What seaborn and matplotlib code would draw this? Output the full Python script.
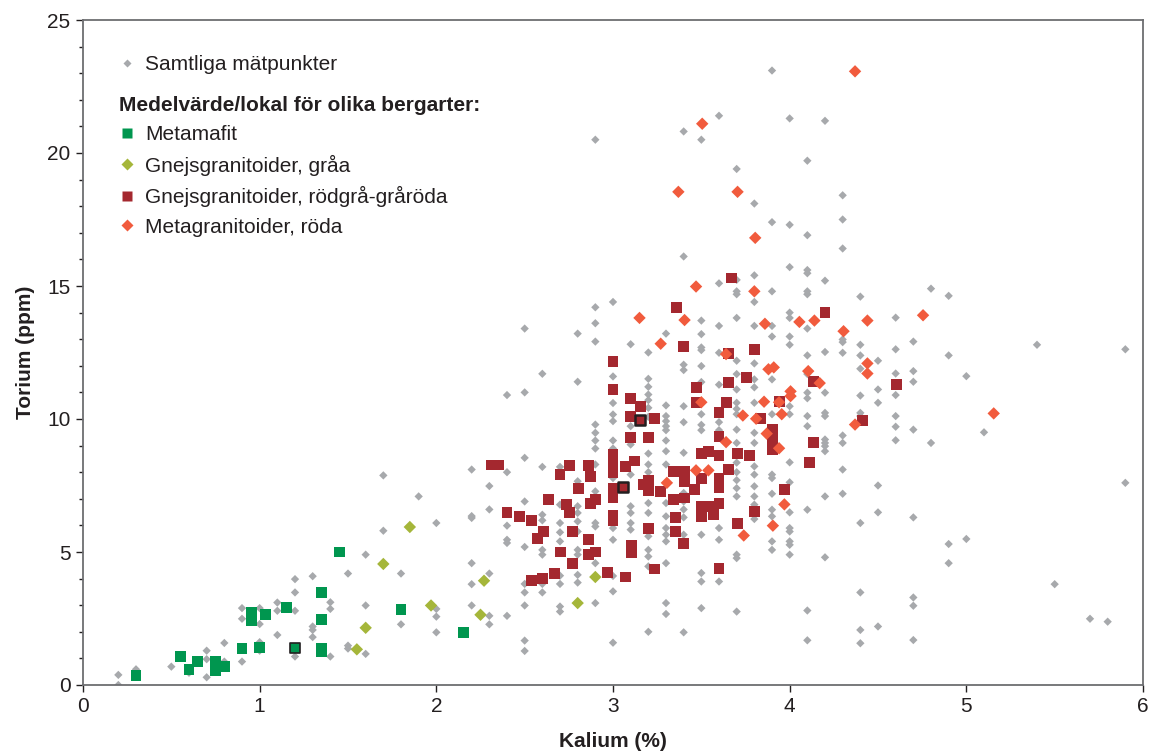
import numpy as np
import pandas as pd
import matplotlib
matplotlib.use("Agg")
import matplotlib.pyplot as plt
from matplotlib.lines import Line2D
import seaborn as sns

# all measurement points: K (%) column -> Th (ppm) values in that column
gray_k_cols = [0.2, 0.3, 0.5, 0.6, 0.7, 0.8, 0.9, 1.0, 1.1, 1.2, 1.3, 1.4, 1.5, 1.6, 1.7,
               1.8, 1.9, 2.0, 2.2, 2.3, 2.4, 2.5, 2.6, 2.7, 2.8, 2.9, 3.0, 3.1, 3.2, 3.3,
               3.4, 3.5, 3.6, 3.7, 3.8, 3.9, 4.0, 4.1, 4.2, 4.3, 4.4, 4.5, 4.6, 4.7, 4.8,
               4.9, 5.0, 5.1, 5.4, 5.5, 5.7, 5.8, 5.9]
gray_th_cols = [
    [0.38, 0.0],
    [0.59],
    [0.69],
    [0.46],
    [1.29, 0.97, 0.29],
    [1.58, 0.88],
    [2.89, 2.49, 0.88],
    [2.89, 2.29, 1.61, 1.29],
    [3.10, 2.79, 1.88],
    [3.98, 3.48, 2.79, 1.07],
    [4.09, 2.20, 2.07, 1.80],
    [3.11, 2.86, 1.07],
    [4.19, 1.48, 1.37],
    [4.90, 2.99, 1.17],
    [7.88, 5.80],
    [4.19, 2.28],
    [7.09],
    [6.09, 2.86, 2.57, 1.98],
    [8.10, 6.35, 6.28, 4.58, 3.79, 2.99],
    [7.48, 6.60, 4.19, 2.60, 2.28],
    [10.90, 8.00, 5.99, 5.46, 5.34, 2.60],
    [13.40, 11.00, 8.54, 6.90, 5.19, 3.80, 3.48, 2.99, 1.67, 1.28],
    [11.70, 8.20, 6.40, 6.19, 5.08, 4.90, 3.80, 3.48],
    [8.20, 6.78, 6.09, 5.74, 5.40, 4.11, 3.80, 2.95, 2.76],
    [13.21, 11.40, 7.66, 6.72, 6.47, 6.15, 5.77, 5.08, 4.90, 4.14, 3.85],
    [20.50, 14.20, 13.60, 12.91, 9.79, 9.48, 9.19, 8.89, 8.29, 7.28, 6.09, 5.96, 4.58, 3.08],
    [14.40, 12.20, 11.60, 10.60, 10.17, 9.92, 9.19, 8.89, 7.78, 5.90, 5.46, 4.10, 3.52, 1.59],
    [12.81, 9.73, 9.04, 7.91, 6.72, 6.47, 6.09, 5.84],
    [12.50, 11.51, 11.21, 10.92, 10.71, 10.42, 10.08, 8.70, 8.29, 8.00, 6.84, 6.47, 5.59,
     5.08, 4.83, 4.46, 2.00],
    [13.21, 10.51, 10.11, 9.92, 9.73, 9.58, 9.19, 8.79, 8.29, 6.84, 6.34, 5.90, 5.65, 5.40,
     4.58, 3.08, 2.67],
    [20.81, 16.11, 12.04, 11.84, 10.48, 9.88, 8.73, 7.22, 6.90, 6.60, 6.30, 5.65, 1.98],
    [20.50, 13.70, 13.19, 12.69, 12.59, 11.99, 11.39, 10.18, 9.78, 9.58, 5.65, 4.21, 3.89, 2.89],
    [21.40, 15.10, 13.50, 12.49, 11.29, 9.88, 9.58, 5.90, 5.46, 3.89],
    [19.40, 15.23, 14.80, 14.69, 13.80, 12.19, 11.69, 11.11, 10.61, 10.38, 10.18, 9.60, 9.10,
     8.36, 8.00, 7.70, 7.40, 7.09, 4.90, 4.77, 2.76],
    [18.10, 15.40, 14.40, 13.50, 12.09, 11.49, 11.19, 10.61, 9.48, 9.10, 8.22, 7.91, 7.47,
     7.09, 6.78, 6.24],
    [23.10, 17.40, 14.80, 13.50, 13.10, 11.49, 10.18, 7.91, 7.78, 7.19, 6.59, 6.34, 5.40, 5.08],
    [21.30, 17.30, 15.71, 14.00, 13.80, 13.10, 12.79, 10.48, 10.18, 8.37, 7.62, 6.49, 5.90,
     5.77, 5.40, 5.27, 4.90],
    [19.71, 16.91, 15.60, 15.48, 14.80, 14.69, 13.40, 12.39, 11.69, 10.99, 10.78, 10.11, 9.73,
     6.59, 2.80, 1.68],
    [21.21, 15.20, 12.52, 10.99, 10.23, 10.11, 9.23, 9.10, 8.98, 8.79, 7.09, 4.80],
    [18.41, 17.50, 16.41, 12.99, 12.89, 12.49, 9.38, 9.10, 8.10, 7.19],
    [14.60, 12.79, 12.39, 11.89, 10.88, 10.23, 10.11, 6.09, 3.48, 2.07, 1.57],
    [12.19, 11.11, 10.61, 7.50, 6.49, 2.20],
    [13.81, 12.62, 11.71, 10.90, 10.11, 9.71, 9.20],
    [12.91, 11.80, 11.40, 9.60, 6.30, 3.29, 2.98, 1.69],
    [14.90, 9.10],
    [14.63, 12.39, 5.30, 4.58],
    [11.61, 5.49],
    [9.50],
    [12.79],
    [3.79],
    [2.49],
    [2.38],
    [12.62, 7.60],
]

# site means per rock type
metamafit_k = [0.30, 0.55, 0.60, 0.65, 0.75, 0.75, 0.80, 0.90, 0.955, 0.955, 1.035, 1.00,
               1.15, 1.35, 1.35, 1.35, 1.35, 1.45, 1.80, 2.155]
metamafit_th = [0.34, 1.08, 0.59, 0.89, 0.89, 0.55, 0.68, 1.38, 2.72, 2.42, 2.64, 1.41,
                2.93, 3.49, 2.45, 1.39, 1.25, 5.00, 2.85, 1.98]
metamafit_hl_k = [1.20]
metamafit_hl_th = [1.38]

gra_k = [1.55, 1.60, 1.70, 1.85, 1.97, 2.25, 2.27, 2.80, 2.90]
gra_th = [1.34, 2.15, 4.55, 5.94, 2.99, 2.64, 3.92, 3.08, 4.06]

rodgra_k = [2.31, 2.35, 2.40, 2.47, 2.54, 2.57, 2.605, 2.54, 2.60, 2.635, 2.67, 2.70, 2.705,
            2.735, 2.755, 2.755, 2.77, 2.77, 2.805, 2.86, 2.87, 2.87, 2.90, 2.86, 2.86, 2.90,
            2.97, 3.00, 3.00, 3.00, 3.00, 3.00, 3.00, 3.00, 3.00, 3.00, 3.07, 3.12, 3.07,
            3.10, 3.10, 3.10, 3.105, 3.105, 3.155, 3.17, 3.20, 3.20, 3.20, 3.20, 3.235, 3.235,
            3.27, 3.34, 3.34, 3.355, 3.355, 3.36, 3.40, 3.405, 3.405, 3.405, 3.40, 3.46,
            3.475, 3.475, 3.50, 3.50, 3.50, 3.50, 3.54, 3.54, 3.57, 3.67, 4.20, 3.80, 3.655,
            3.755, 3.655, 4.135, 3.64, 3.60, 3.94, 3.835, 4.41, 3.905, 3.905, 3.905, 3.60,
            4.135, 3.705, 3.77, 3.60, 3.60, 3.60, 3.655, 3.60, 3.80, 3.705, 3.97, 4.11, 3.60,
            4.605]
rodgra_th = [8.27, 8.27, 6.50, 6.32, 6.17, 5.49, 5.76, 3.93, 3.99, 6.99, 4.18, 7.91, 5.00,
             6.78, 6.47, 8.25, 5.76, 4.58, 7.37, 8.25, 7.85, 6.84, 6.99, 5.46, 4.90, 5.00,
             4.24, 12.15, 11.10, 8.66, 8.25, 7.97, 7.37, 7.03, 6.37, 6.17, 8.20, 8.42, 4.06,
             10.76, 10.11, 9.29, 5.24, 4.98, 10.48, 7.53, 9.29, 7.69, 7.32, 5.90, 10.01, 4.36,
             7.28, 8.03, 6.99, 6.28, 5.77, 14.19, 12.74, 8.03, 7.66, 7.03, 5.32, 7.34,
             11.17, 10.61, 7.78, 6.72, 6.34, 8.72, 6.72, 8.79, 6.40, 15.30, 14.00, 12.62, 12.45,
             11.55, 11.36, 11.40, 10.61, 10.23, 10.67, 10.01, 9.93, 9.60, 9.25, 8.85, 9.35,
             9.10, 8.70, 8.62, 8.62, 7.78, 7.41, 8.10, 6.82, 6.53, 6.06, 7.34, 8.35, 4.39,
             11.29]
rodgra_hl_k = [3.155, 3.055]
rodgra_hl_th = [9.98, 7.45]

roda_k = [3.15, 3.27, 3.405, 3.47, 3.80, 3.86, 4.055, 4.14, 4.44, 4.305, 3.64, 3.88, 3.91,
          4.105, 4.17, 4.44, 4.44, 4.005, 4.005, 3.50, 3.855, 3.94, 3.735, 3.81, 3.955, 4.37,
          3.87, 3.64, 3.94, 3.305, 3.47, 3.54, 3.97, 3.905, 3.74, 4.755, 5.155, 4.37, 3.505,
          3.37, 3.705, 3.805]
roda_th = [13.80, 12.83, 13.72, 14.98, 14.80, 13.58, 13.65, 13.70, 13.70, 13.30, 12.44, 11.87,
           11.94, 11.80, 11.35, 12.09, 11.71, 11.04, 10.86, 10.63, 10.65, 10.63, 10.13, 10.01,
           10.18, 9.79, 9.45, 9.13, 8.90, 7.60, 8.07, 8.07, 6.79, 5.99, 5.62, 13.90, 10.21,
           23.07, 21.10, 18.54, 18.54, 16.81]

labels = ["Samtliga mätpunkter", "Metamafit", "Gnejsgranitoider, gråa",
          "Gnejsgranitoider, rödgrå-gråröda", "Metagranitoider, röda"]
legend_title = "Medelvärde/lokal för olika bergarter:"

GREY = "#a7a9ac"
GREEN = "#00964f"
OLIVE = "#a5b63a"
DARKRED = "#a4282f"
ORANGE = "#f15b3d"
EDGE = "#231f20"
SPINE = "#6d6e71"

gray_k = [k for k, ths in zip(gray_k_cols, gray_th_cols) for _ in ths]
gray_th = [t for ths in gray_th_cols for t in ths]


def main():
    sns.set_style("ticks")
    plt.rcParams["font.family"] = ["Liberation Sans", "DejaVu Sans"]

    fig = plt.figure(figsize=(11.54, 7.51), dpi=100)
    ax = fig.add_axes([83 / 1154, 66 / 751, 1060 / 1154, 665 / 751])

    sns.scatterplot(x=gray_k, y=gray_th, marker="D", s=18, color=GREY,
                    edgecolor="none", linewidth=0, ax=ax, zorder=2)
    sns.scatterplot(x=metamafit_k, y=metamafit_th, marker="s", s=62, color=GREEN,
                    edgecolor="none", linewidth=0, ax=ax, zorder=3)
    sns.scatterplot(x=metamafit_hl_k, y=metamafit_hl_th, marker="s", s=55, color=GREEN,
                    edgecolor=EDGE, linewidth=1.2, ax=ax, zorder=3)
    sns.scatterplot(x=gra_k, y=gra_th, marker="D", s=40, color=OLIVE,
                    edgecolor="none", linewidth=0, ax=ax, zorder=3)
    sns.scatterplot(x=rodgra_k, y=rodgra_th, marker="s", s=62, color=DARKRED,
                    edgecolor="none", linewidth=0, ax=ax, zorder=4)
    sns.scatterplot(x=rodgra_hl_k, y=rodgra_hl_th, marker="s", s=55, color=DARKRED,
                    edgecolor=EDGE, linewidth=1.8, ax=ax, zorder=4)
    sns.scatterplot(x=roda_k, y=roda_th, marker="D", s=40, color=ORANGE,
                    edgecolor="none", linewidth=0, ax=ax, zorder=5)

    ax.set_xlim(0, 6)
    ax.set_ylim(0, 25)
    ax.set_xticks(range(0, 7))
    ax.set_yticks(range(0, 26, 5))
    ax.set_yticks(range(0, 26), minor=True)
    ax.tick_params(axis="both", which="major", direction="out", length=5, width=1,
                   color=EDGE, labelsize=15, labelcolor=EDGE, pad=4)
    ax.tick_params(axis="y", which="minor", direction="out", length=3, width=1, color=EDGE)
    for sp in ax.spines.values():
        sp.set_visible(True)
        sp.set_color(SPINE)
        sp.set_linewidth(1.3)

    ax.set_xlabel("Kalium (%)", fontsize=15, fontweight="bold", color=EDGE, labelpad=11)
    ax.set_ylabel("Torium (ppm)", fontsize=15, fontweight="bold", color=EDGE, labelpad=9)

    # legend: all points
    h_all = [Line2D([], [], ls="none", marker="D", markersize=4.2, color=GREY, mec="none")]
    leg1 = ax.legend(h_all, labels[:1], loc="upper left", bbox_to_anchor=(0.0335, 0.9475),
                     frameon=False, fontsize=15, borderpad=0, borderaxespad=0,
                     handlelength=0.8, handletextpad=0.47)
    for t in leg1.get_texts():
        t.set_color(EDGE)
    ax.add_artist(leg1)

    # legend: site means by rock type
    h_means = [
        Line2D([], [], ls="none", marker="s", markersize=7.8, color=GREEN, mec="none"),
        Line2D([], [], ls="none", marker="D", markersize=6.2, color=OLIVE, mec="none"),
        Line2D([], [], ls="none", marker="s", markersize=7.8, color=DARKRED, mec="none"),
        Line2D([], [], ls="none", marker="D", markersize=6.2, color=ORANGE, mec="none"),
    ]
    leg2 = ax.legend(h_means, labels[1:], title=legend_title, loc="upper left",
                     bbox_to_anchor=(0.0335, 0.886), frameon=False, fontsize=15,
                     title_fontproperties={"weight": "bold", "size": 15},
                     alignment="left", borderpad=0, borderaxespad=0,
                     handlelength=0.8, handletextpad=0.47, labelspacing=0.5)
    leg2.get_title().set_color(EDGE)
    for t in leg2.get_texts():
        t.set_color(EDGE)

    fig.savefig("out.png", dpi=100)
    plt.close(fig)


if __name__ == "__main__":
    main()
